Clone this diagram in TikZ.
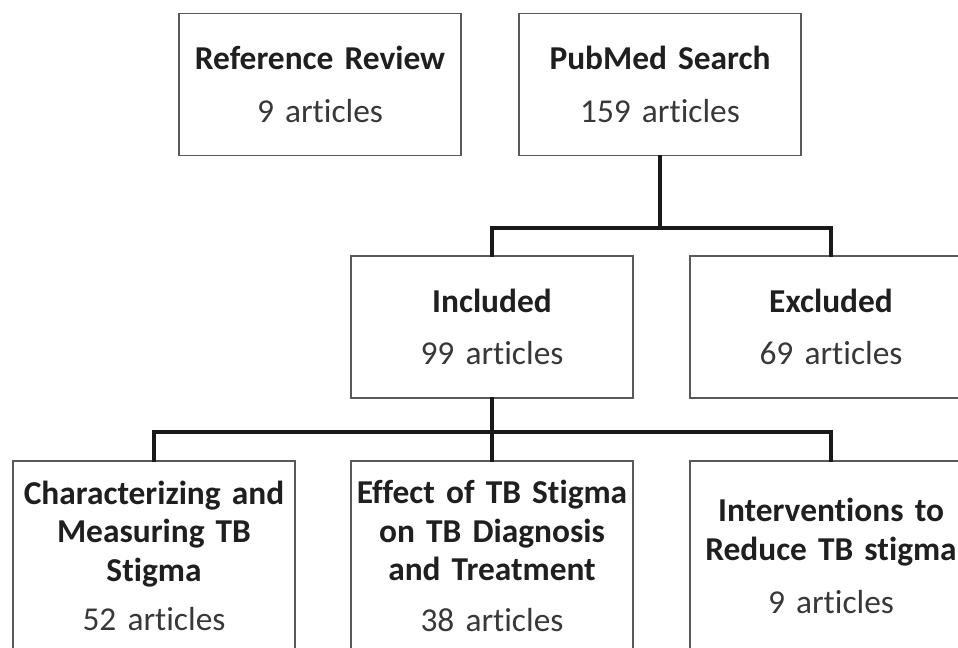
\documentclass[tikz,border=0pt]{standalone}
\usepackage{fontspec}
\setmainfont{Carlito}[Ligatures=NoCommon, WordSpace=0.8]
\usepackage{tikz}
\tikzset{
  flowbox/.style={draw=black!65, line width=1.1pt, fill=white, rectangle, minimum width=5.64cm, minimum height=2.84cm, inner sep=0.5pt, text width=5.6cm, align=center, font=\fontsize{19}{22}\selectfont},
  tallbox/.style={flowbox, minimum height=3.8cm, anchor=north},
  link/.style={line width=2pt, draw=black!90, line cap=rect},
}
\newcommand{\boxtitle}[1]{{\bfseries\color{black!88}#1}}
\newcommand{\boxcount}[1]{{\color{black!78}#1}}

\begin{document}
\begin{tikzpicture}
\useasboundingbox (0,0) rectangle (19.16,12.96);
\clip (0,0) rectangle (19.16,12.96);
\fill[white] (0,0) rectangle (19.16,12.96);
\node[flowbox] (refrev) at (6.40,11.27) {\boxtitle{Reference Review}\\[8pt]\boxcount{9 articles}};
\node[flowbox] (pubmed) at (13.20,11.27) {\boxtitle{PubMed Search}\\[8pt]\boxcount{159 articles}};
\node[flowbox] (included) at (9.84,6.42) {\boxtitle{Included}\\[8pt]\boxcount{99 articles}};
\node[flowbox] (excluded) at (16.62,6.42) {\boxtitle{Excluded}\\[8pt]\boxcount{69 articles}};
\node[tallbox] (charact) at (3.08,3.76) {\boxtitle{Characterizing and\\Measuring TB\\Stigma}\\[6pt]\boxcount{52 articles}};
\node[tallbox] (effect) at (9.84,3.76) {\boxtitle{Effect of TB Stigma\\on TB Diagnosis\\and Treatment}\\[7pt]\boxcount{38 articles}};
\node[tallbox] (interv) at (16.62,3.76) {\boxtitle{Interventions to\\Reduce TB stigma}\\[8pt]\boxcount{9 articles}};
\coordinate (topfork) at (13.20,8.40);
\coordinate (lowfork) at (9.84,4.32);
\draw[link] (pubmed.south) -- (topfork) -| (included.north);
\draw[link] (topfork) -| (excluded.north);
\draw[link] (included.south) -- (lowfork) -| (charact.north);
\draw[link] (lowfork) -- (effect.north);
\draw[link] (lowfork) -| (interv.north);
\end{tikzpicture}
\end{document}
